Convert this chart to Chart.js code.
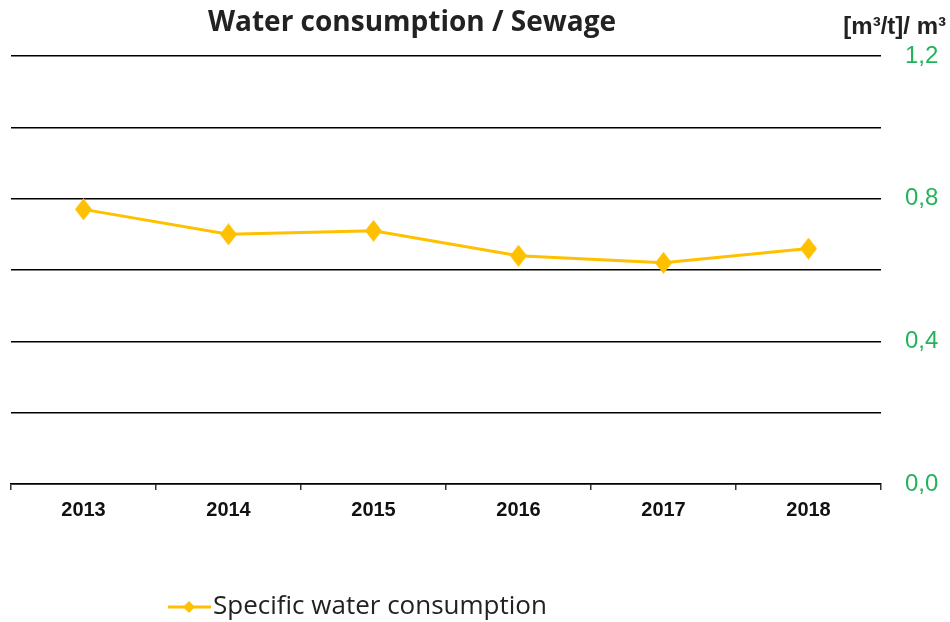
<!DOCTYPE html>
<html>
<head>
<meta charset="utf-8">
<script src="https://cdn.jsdelivr.net/npm/chart.js@4"></script>
<style>
  html, body { margin: 0; padding: 0; background: #fff; }
  #wrap { width: 950px; height: 622px; position: relative; }
</style>
</head>
<body>
<div id="wrap"><canvas id="myChart" width="950" height="622"></canvas></div>
<script>
var years = ["2013", "2014", "2015", "2016", "2017", "2018"];
var waterValues = [0.77, 0.70, 0.71, 0.64, 0.62, 0.66];
var shownTicks = [0, 0.4, 0.8, 1.2];
var seriesName = "Specific water consumption";
var chartTitle = "Water consumption / Sewage";
var unitLabel = "[m\u00b3/t]/ m\u00b3";

var amber = "#ffc000";
var green = "#22b35c";

// tall diamond marker
function diamond(w, h) {
  var c = document.createElement('canvas');
  c.width = w; c.height = h;
  var g = c.getContext('2d');
  g.fillStyle = amber;
  g.beginPath();
  g.moveTo(w / 2, 0);
  g.lineTo(w, h / 2);
  g.lineTo(w / 2, h);
  g.lineTo(0, h / 2);
  g.closePath();
  g.fill();
  return c;
}
var marker = diamond(17, 22);

var textPlugin = {
  id: 'texts',
  afterDraw: function(chart) {
    var g = chart.ctx;
    g.save();
    g.textBaseline = 'middle';
    g.fillStyle = '#222';
    g.font = 'bold 28px "Open Sans"';
    g.textAlign = 'center';
    g.fillText(chartTitle, 412, 23);
    g.font = 'bold 24px "Liberation Sans"';
    g.textAlign = 'right';
    g.fillText(unitLabel, 946, 27);
    // legend
    g.strokeStyle = amber;
    g.lineWidth = 3;
    g.beginPath();
    g.moveTo(168, 607);
    g.lineTo(211, 607);
    g.stroke();
    g.fillStyle = amber;
    g.beginPath();
    g.moveTo(189, 601); g.lineTo(195, 607); g.lineTo(189, 613); g.lineTo(183, 607);
    g.closePath();
    g.fill();
    g.fillStyle = '#222';
    g.textAlign = 'left';
    g.font = '26px "Open Sans"';
    g.fillText(seriesName, 213, 607);
    g.restore();
  }
};

var ctx = document.getElementById("myChart").getContext('2d');
var myChart = new Chart(ctx, {
  type: 'line',
  data: {
    labels: years,
    datasets: [{
      label: seriesName,
      data: waterValues,
      borderColor: amber,
      backgroundColor: amber,
      borderWidth: 3,
      pointStyle: marker,
      tension: 0
    }]
  },
  options: {
    responsive: false,
    animation: false,
    layout: { padding: { left: 11, right: 0, top: 56, bottom: 92 } },
    plugins: {
      legend: { display: false },
      title: { display: false },
      tooltip: { enabled: false }
    },
    scales: {
      x: {
        offset: true,
        grid: { offset: true, drawOnChartArea: false, color: '#333', tickLength: 6, lineWidth: 1.5 },
        border: { color: '#000', width: 1.5 },
        ticks: { color: '#111', padding: 8, font: { family: 'Liberation Sans', size: 20, weight: 'bold' } }
      },
      y: {
        position: 'right',
        min: 0,
        max: 1.2,
        afterFit: function(scale) { scale.width = 69; },
        grid: { color: '#000', lineWidth: 1.5, drawTicks: false },
        border: { display: false },
        ticks: {
          stepSize: 0.2,
          padding: 24,
          color: green,
          font: { family: 'Liberation Sans', size: 24 },
          callback: function(v) {
            var r = Math.round(v * 10) / 10;
            return shownTicks.indexOf(r) >= 0 ? r.toFixed(1).replace('.', ',') : '';
          }
        }
      }
    }
  },
  plugins: [textPlugin]
});
</script>
</body>
</html>
